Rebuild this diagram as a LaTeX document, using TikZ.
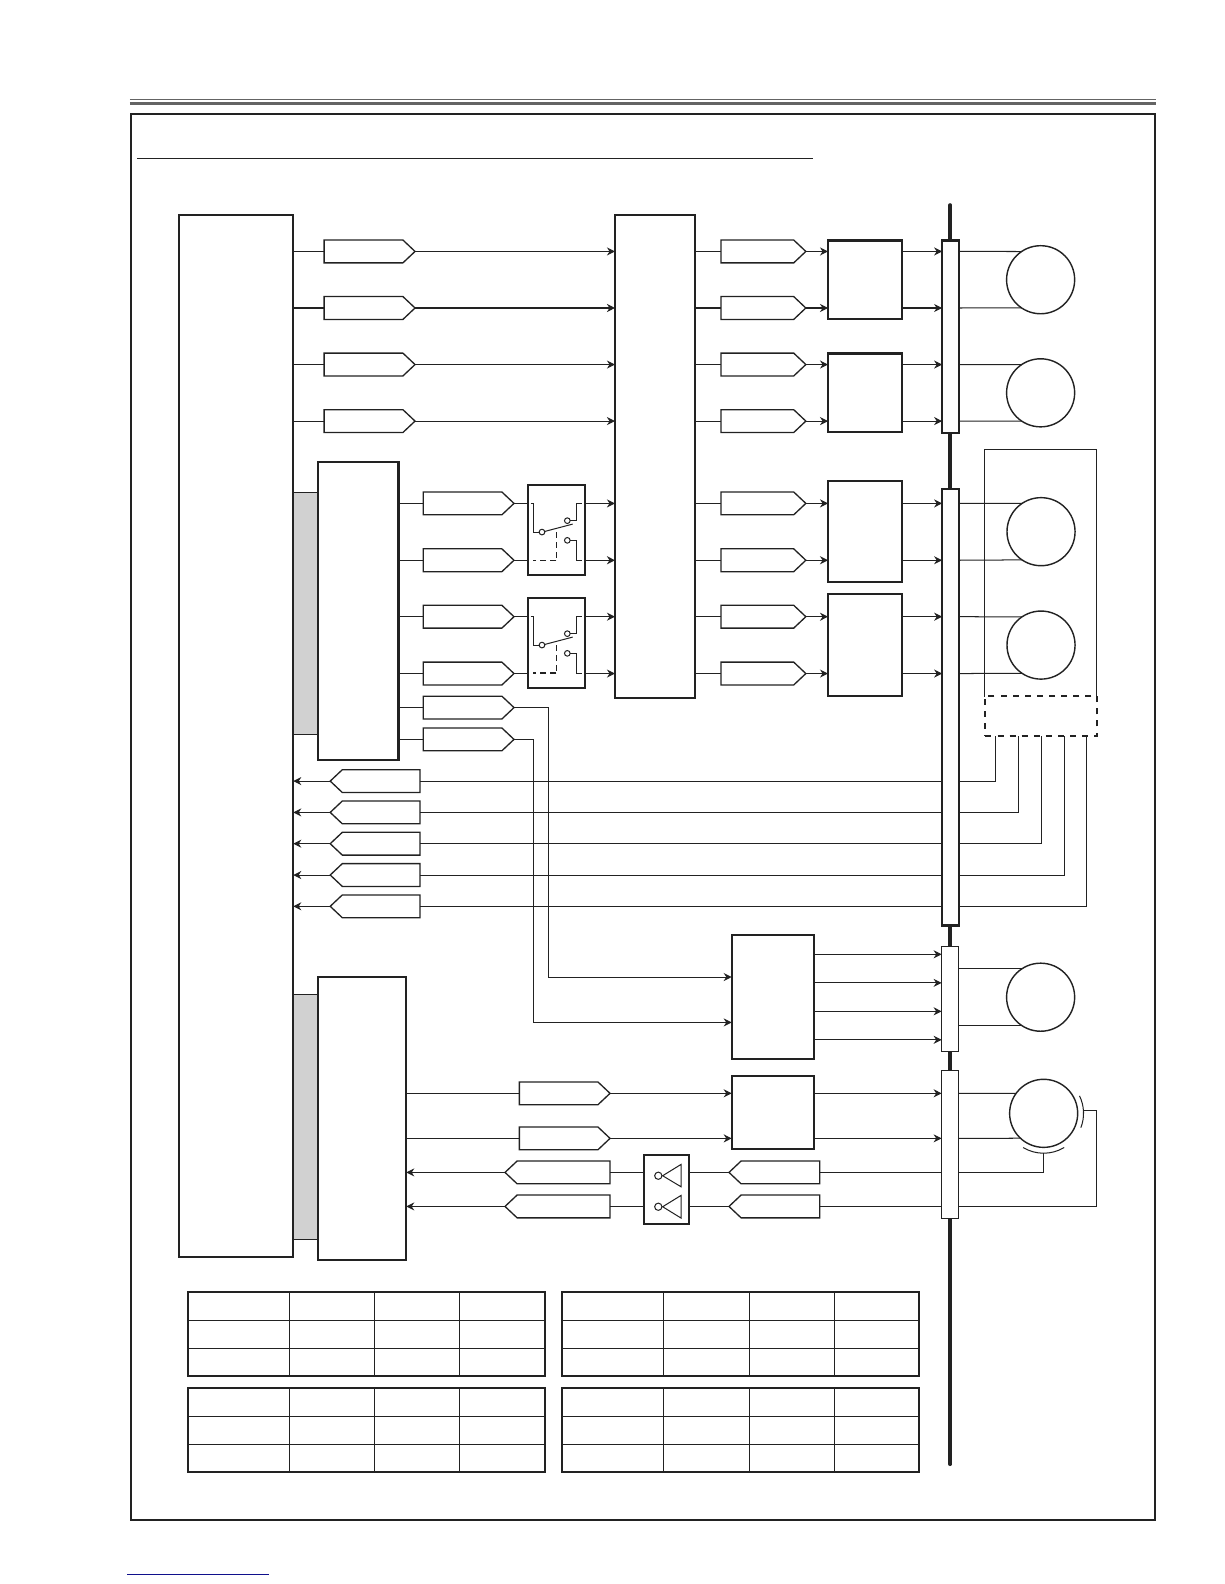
\documentclass[tikz,border=0pt]{standalone}
\usetikzlibrary{fit,arrows.meta}
\definecolor{ink}{HTML}{222222}
\definecolor{navy}{HTML}{10108C}
\tikzset{
  x=0.5pt,y=-0.5pt,
  ink/.style={draw=ink},
  thin line/.style={draw=ink,line width=0.5pt},
  heavy box/.style={draw=ink,line width=1.15pt,fill=white},
  light box/.style={draw=ink,line width=0.55pt,fill=white},
  tag shape/.style={draw=ink,line width=0.65pt,fill=white,line join=miter},
  arr/.style={draw=ink,line width=0.5pt,-{Stealth[length=4pt,width=4pt]}},
  disc/.style={circle,draw=ink,line width=0.7pt,fill=white,inner sep=0pt,outer sep=0pt,minimum size=33.7pt},
}
\newcommand{\bx}[6]{\node[fit={(#2,#3)(#4,#5)},inner sep=0pt,outer sep=0pt,#6] (#1) {};}
\newcommand{\tagR}[4]{\node[fit={(#2,#4-11.3)(#3,#4+11.3)},inner sep=0pt,outer sep=0pt] (#1) {};
  \draw[tag shape] (#1.north west) -- ([xshift=-6pt]#1.north east) -- (#1.east) -- ([xshift=-6pt]#1.south east) -- (#1.south west) -- cycle;}
\newcommand{\tagL}[4]{\node[fit={(#2,#4-11.3)(#3,#4+11.3)},inner sep=0pt,outer sep=0pt] (#1) {};
  \draw[tag shape] (#1.north east) -- ([xshift=6pt]#1.north west) -- (#1.west) -- ([xshift=6pt]#1.south west) -- (#1.south east) -- cycle;}
\newcommand{\tbl}[9]{%
  \draw[thin line] (#2,#6) -- (#2,#9) (#3,#6) -- (#3,#9) (#4,#6) -- (#4,#9) (#1,#7) -- (#5,#7) (#1,#8) -- (#5,#8);
  \draw[draw=ink,line width=1.1pt] (#1,#6) rectangle (#5,#9);}
\newcommand{\swt}[3]{% origin x, y, dashed horizontal style
  \begin{scope}[shift={(#1,#2)}]
    \draw[thin line] (3,18.5) -- (5.6,18.5) -- (5.6,47.2) -- (11.6,47.2);
    \draw[thin line] (17.2,46.2) -- (44.6,39);
    \draw[thin line] (41.9,35.6) -- (47.9,35.6) -- (47.9,18.5) -- (53.5,18.5);
    \draw[thin line] (41.9,55.1) -- (47.9,55.1) -- (47.9,74.6) -- (53.5,74.6);
    \draw[thin line,densely dashed] (28.4,47) -- (28.4,74.6);
    \draw[draw=ink,#3,densely dashed] (28.4,74.6) -- (5,74.6);
    \draw[thin line] (14.2,46.9) circle[radius=1.4pt];
    \draw[thin line] (39.3,35.6) circle[radius=1.4pt];
    \draw[thin line] (39.3,55.1) circle[radius=1.4pt];
  \end{scope}}
\begin{document}
\begin{tikzpicture}
\useasboundingbox (0,0) rectangle (1212.2,1568.6);
\fill[white] (0,0) rectangle (1212.2,1568.6);
% page rules and frame
\draw[draw=ink!70,line width=0.5pt] (128.7,98.3) -- (1144.5,98.3);
\draw[draw=ink!70,line width=1.5pt] (128.7,102.3) -- (1144.5,102.3);
\draw[draw=ink,line width=1.15pt] (129.7,113) rectangle (1143.5,1505.3);
\draw[draw=ink,line width=0.55pt] (136,157) -- (805.5,157);
\draw[draw=navy,line width=0.6pt] (126,1559) -- (266.5,1559);
% bus
\coordinate (bust) at (941,203);
\coordinate (busb) at (941,1450);
\draw[draw=ink,line width=1.75pt,line cap=round] (bust) -- (busb);
% main blocks
\bx{mcu}{177.3}{213}{290.4}{1244.5}{heavy box}
\bx{gra}{290.4}{487.5}{314.6}{727.2}{thin line,fill=black!18}
\bx{grb}{290.4}{984.5}{314.6}{1227.5}{thin line,fill=black!18}
\bx{cena}{315}{457.5}{394.5}{752.6}{heavy box}
\bx{cenb}{315}{967.5}{402.3}{1247.5}{heavy box}
\bx{cen}{609}{213}{688.3}{691.5}{heavy box}
\bx{sa}{523}{480}{579.6}{569.4}{heavy box}
\bx{sb}{523}{591.9}{579.6}{681.6}{heavy box}
\bx{da}{820}{238}{893}{316}{heavy box}
\bx{db}{820}{350}{893}{428}{heavy box}
\bx{dc}{820}{476}{893}{576}{heavy box}
\bx{dd}{820}{588}{893}{689}{heavy box}
\bx{de}{724.6}{926}{806.4}{1048.8}{heavy box}
\bx{df}{724.6}{1065.3}{806.4}{1137.9}{heavy box}
\bx{inv}{637.8}{1143.5}{682.6}{1212.1}{heavy box}
\bx{ca}{933}{238}{949.5}{429}{heavy box}
\bx{cb}{933}{484}{949.5}{916.5}{heavy box}
\bx{cc}{932.5}{937}{949}{1041.1}{light box}
\bx{cd}{932.5}{1059.9}{949}{1206.5}{light box}
\bx{enc}{974.8}{445}{1086}{689.3}{thin line}
\bx{dsh}{975.8}{689.3}{1086.7}{728.5}{draw=ink,line width=1pt,dashed,fill=white}
% motors
\node[disc] (ma) at (1030.5,277) {};
\node[disc] (mb) at (1030.5,389) {};
\node[disc] (mc) at (1030.9,526.5) {};
\node[disc] (md) at (1030.9,638.8) {};
\node[disc] (me) at (1030.5,987.5) {};
\node[disc] (mf) at (1033.5,1102.5) {};
% upper signals
\foreach \n/\y/\d/\c/\m/\a in {1/249/da/ca/ma/124,2/305/da/ca/ma/236,3/361/db/ca/mb/124,4/417/db/ca/mb/236}{
  \tagR{p\n}{321}{411}{\y}
  \tagR{o\n}{714}{798}{\y}
  \draw[thin line] (mcu.east |- p\n.west) -- (p\n.west);
  \draw[arr] (p\n.east) -- (cen.west |- p\n.east);
  \draw[thin line] (cen.east |- o\n.west) -- (o\n.west);
  \draw[arr] (o\n.east) -- (\d.west |- o\n.east);
  \draw[arr] (\d.east |- o\n.east) -- (\c.west |- o\n.east);
  \draw[thin line] (\c.east |- o\n.east) -- (\m.\a);
}
\foreach \n/\y/\s/\d/\m/\a in {5/498.5/sa/dc/mc/124,6/554.8/sa/dc/mc/236,7/610.7/sb/dd/md/124,8/667/sb/dd/md/236}{
  \tagR{p\n}{419.2}{509}{\y}
  \tagR{o\n}{714}{798}{\y}
  \draw[thin line] (cena.east |- p\n.west) -- (p\n.west);
  \draw[thin line] (p\n.east) -- (\s.west |- p\n.east);
  \draw[arr] (\s.east |- p\n.east) -- (cen.west |- p\n.east);
  \draw[thin line] (cen.east |- o\n.west) -- (o\n.west);
  \draw[arr] (o\n.east) -- (\d.west |- o\n.east);
  \draw[arr] (\d.east |- o\n.east) -- (cb.west |- o\n.east);
  \draw[thin line] (cb.east |- o\n.east) -- (\m.\a);
}
\swt{522.5}{480}{line width=0.5pt}
\swt{522.5}{591.9}{line width=1pt}
% control signals
\tagR{pa}{419.2}{509}{700.7}
\tagR{pb}{419.2}{509}{732.2}
\draw[thin line] (cena.east |- pa.west) -- (pa.west);
\draw[thin line] (cena.east |- pb.west) -- (pb.west);
\coordinate (ina) at (de.west |- 0,967.5);
\coordinate (inb) at (de.west |- 0,1012.5);
\draw[arr] (pa.east) -| (543,967.5) -- (ina);
\draw[arr] (pb.east) -| (528.2,1012.5) -- (inb);
\foreach \y in {945,973.3,1001.5,1029.7}{
  \draw[arr] (de.east |- 0,\y) -- (cc.west |- 0,\y);
}
\draw[thin line] (cc.east |- me.124) -- (me.124);
\draw[thin line] (cc.east |- me.236) -- (me.236);
% return signals
\foreach \n/\y/\x in {a/773.5/986,b/804.5/1008.8,c/835.5/1031.5,d/866.5/1054.4,e/897.5/1076.1}{
  \tagL{q\n}{327}{416}{\y}
  \draw[arr] (q\n.west) -- (mcu.east |- q\n.west);
  \draw[thin line] (q\n.east) -- (cb.west |- q\n.east);
  \draw[thin line] (cb.east |- q\n.east) -| (\x,0 |- dsh.south);
}
% lower section
\foreach \n/\y/\a in {a/1082.7/144,b/1127.3/227.4}{
  \tagR{u\n}{514.3}{604.1}{\y}
  \draw[thin line] (cenb.east |- u\n.west) -- (u\n.west);
  \draw[arr] (u\n.east) -- (df.west |- u\n.east);
  \draw[arr] (df.east |- u\n.east) -- (cd.west |- u\n.east);
  \draw[thin line] (cd.east |- u\n.east) -- (mf.\a);
}
\foreach \n/\y in {a/1161,b/1194.7}{
  \tagL{v\n}{500.1}{604.1}{\y}
  \tagL{w\n}{721.9}{811.8}{\y}
  \draw[arr] (v\n.west) -- (cenb.east |- v\n.west);
  \draw[thin line] (inv.west |- v\n.east) -- (v\n.east);
  \draw[thin line] (w\n.west) -- (inv.east |- w\n.west);
  \draw[thin line] (w\n.east) -- (cd.west |- w\n.east);
}
% inverters
\begin{scope}[shift={(637.4,1143.5)}]
  \draw[thin line] (18.8,20.8) -- (37,9.6) -- (37,31.7) -- cycle;
  \draw[thin line] (14.5,20.8) circle[radius=1.8pt];
  \draw[thin line] (18.8,51.5) -- (37,40.3) -- (37,62.7) -- cycle;
  \draw[thin line] (14.5,51.5) circle[radius=1.8pt];
\end{scope}
% pickup coils on the last motor
\draw[thin line] ([shift={(-121:19.75pt)}]mf.center) arc[start angle=-121,end angle=-59,radius=19.75pt];
\draw[thin line] ([shift={(-21:19.75pt)}]mf.center) arc[start angle=-21,end angle=26,radius=19.75pt];
\coordinate (coilb) at ([yshift=-19.75pt]mf.center);
\coordinate (coilr) at (1073,1099.5);
\draw[thin line] (cd.east |- wa.east) -| (coilb);
\draw[thin line] (cd.east |- wb.east) -| (1085.4,1099.5) -- (coilr);
% tables
\tbl{185.9}{286.5}{370.7}{454.9}{540}{1279.5}{1307.5}{1335.2}{1362.7}
\tbl{185.9}{286.5}{370.7}{454.9}{540}{1374.2}{1402.3}{1430}{1458}
\tbl{556.2}{657}{742}{826}{910}{1279.5}{1307.5}{1335.2}{1362.7}
\tbl{556.2}{657}{742}{826}{910}{1374.2}{1402.3}{1430}{1458}
\end{tikzpicture}
\end{document}
